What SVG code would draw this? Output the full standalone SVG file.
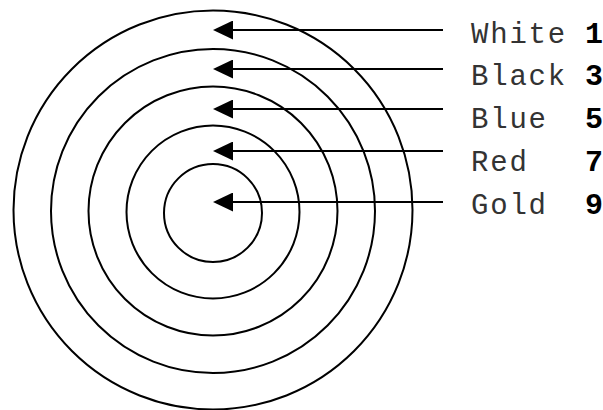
<svg xmlns="http://www.w3.org/2000/svg" width="603" height="410" viewBox="0 0 603 410">
  <style>
    .ring { fill: none; stroke: #000; stroke-width: 2; }
    .conn { stroke: #000; stroke-width: 2; fill: none; marker-end: url(#ah); }
    .lbl { font-family: "Liberation Mono", "Courier New", monospace; font-size: 29px; letter-spacing: 1.8px; fill: #333; }
    .num { font-family: "Liberation Mono", "Courier New", monospace; font-size: 30px; font-weight: bold; fill: #000; }
  </style>
  <defs>
    <marker id="ah" markerWidth="20" markerHeight="19" refX="10" refY="9.5" orient="auto" markerUnits="userSpaceOnUse">
      <path d="M0,0 L20,9.5 L0,19 Z" fill="#000"/>
    </marker>
  </defs>
  <rect width="603" height="410" fill="#fff"/>
  <g id="ring-white"><circle class="ring" cx="213" cy="210" r="199.5"/></g>
  <g id="ring-black"><circle class="ring" cx="213" cy="211" r="162"/></g>
  <g id="ring-blue"><circle class="ring" cx="213" cy="211" r="124.5"/></g>
  <g id="ring-red"><circle class="ring" cx="213" cy="212" r="86.5"/></g>
  <g id="ring-gold"><circle class="ring" cx="213" cy="213" r="49"/></g>
  <g id="connectors">
    <line class="conn" x1="443" y1="30" x2="223" y2="30"/>
    <line class="conn" x1="443" y1="69" x2="223" y2="69"/>
    <line class="conn" x1="443" y1="109" x2="223" y2="109"/>
    <line class="conn" x1="443" y1="151" x2="223" y2="151"/>
    <line class="conn" x1="443" y1="202" x2="223" y2="202"/>
  </g>
  <g id="label-white"><text class="lbl" x="471" y="43">White</text><text class="num" x="585" y="43">1</text></g>
  <g id="label-black"><text class="lbl" x="471" y="85">Black</text><text class="num" x="585" y="85">3</text></g>
  <g id="label-blue"><text class="lbl" x="471" y="128">Blue</text><text class="num" x="585" y="128">5</text></g>
  <g id="label-red"><text class="lbl" x="471" y="171">Red</text><text class="num" x="585" y="171">7</text></g>
  <g id="label-gold"><text class="lbl" x="471" y="214">Gold</text><text class="num" x="585" y="214">9</text></g>
</svg>
